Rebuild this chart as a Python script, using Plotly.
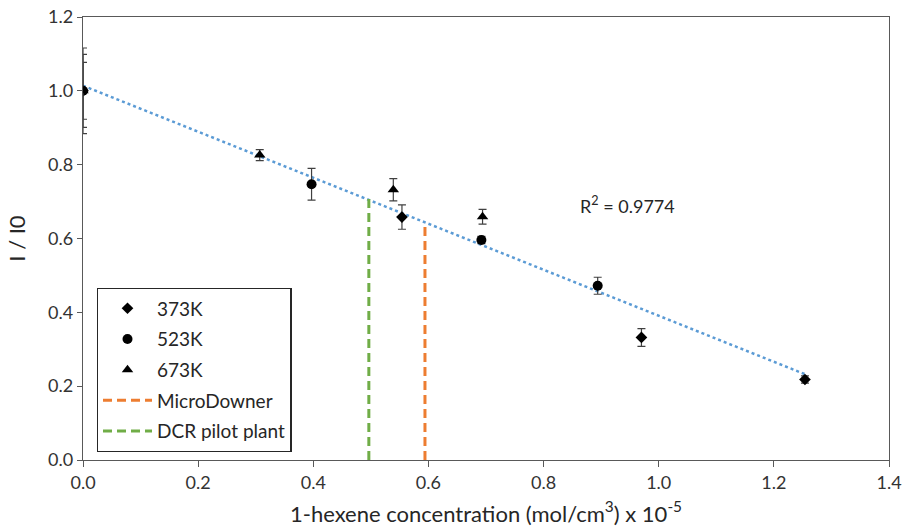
import numpy as np
import plotly.graph_objects as go

# ---- data ----
x_373 = [0.0, 0.554, 0.970, 1.254]
y_373 = [1.0, 0.658, 0.332, 0.218]
e_373 = [0.116, 0.033, 0.024, 0.010]

x_523 = [0.0, 0.397, 0.692, 0.894]
y_523 = [1.0, 0.747, 0.596, 0.472]
e_523 = [0.099, 0.043, 0.010, 0.023]

x_673 = [0.0, 0.307, 0.539, 0.694]
y_673 = [1.0, 0.826, 0.732, 0.659]
e_673 = [0.077, 0.015, 0.030, 0.020]

micro_x = [0.594, 0.594]
micro_y = [0.0, 0.645]
dcr_x = [0.4965, 0.4965]
dcr_y = [0.0, 0.708]

r2_text = "R<sup>2</sup> = 0.9774"
x_ticks = [0.0, 0.2, 0.4, 0.6, 0.8, 1.0, 1.2, 1.4]
y_ticks = [0.0, 0.2, 0.4, 0.6, 0.8, 1.0, 1.2]

# linear trendline over all points
all_x = np.array(x_373 + x_523 + x_673)
all_y = np.array(y_373 + y_523 + y_673)
slope, intercept = np.polyfit(all_x, all_y, 1)
trend_x = np.array([all_x.min(), all_x.max()])
trend_y = intercept + slope * trend_x

FONT = "Lato, 'Liberation Sans', sans-serif"
AX = "#595959"
ERR = "#404040"
TXT = "#333333"

fig = go.Figure()

fig.add_trace(go.Scatter(
    x=trend_x, y=trend_y, mode="lines", showlegend=False,
    line=dict(color="#5B9BD5", width=2.5, dash="dot"), hoverinfo="skip"))

def series(x, y, e, name, symbol, size):
    fig.add_trace(go.Scatter(
        x=x, y=y, mode="markers", name=name, legendgroup=name,
        marker=dict(symbol=symbol, size=size, color="black"),
        error_y=dict(type="data", array=e, visible=True, color=ERR,
                     thickness=1.2, width=4)))

series(x_373, y_373, e_373, "373K", "diamond", 9)
series(x_523, y_523, e_523, "523K", "circle", 10)
series(x_673, y_673, e_673, "673K", "triangle-up", 10)

fig.add_trace(go.Scatter(
    x=micro_x, y=micro_y, mode="lines", name="MicroDowner", legendgroup="m",
    line=dict(color="#ED7D31", width=3, dash="9px,5px")))
fig.add_trace(go.Scatter(
    x=dcr_x, y=dcr_y, mode="lines", name="DCR pilot plant", legendgroup="d",
    line=dict(color="#70AD47", width=3, dash="9px,5px")))

fig.add_annotation(x=0.946, y=0.69, text=r2_text, showarrow=False,
                   font=dict(family=FONT, size=18, color="#262626"))

fig.update_layout(
    width=903, height=531,
    margin=dict(l=83, r=14, t=17, b=71),
    paper_bgcolor="white", plot_bgcolor="white",
    font=dict(family=FONT, size=18, color=TXT),
    legend=dict(x=0.017, y=0.388, xanchor="left", yanchor="top",
                bordercolor="#262626", borderwidth=1.3, bgcolor="white",
                font=dict(family=FONT, size=19, color="#262626"),
                tracegroupgap=3, itemwidth=49),
    xaxis=dict(range=[0, 1.4], tickvals=x_ticks, automargin=False,
               ticktext=[f"{v:.1f}" for v in x_ticks],
               showgrid=False, zeroline=False, showline=True, linecolor=AX,
               linewidth=1.3, mirror=True, ticks="outside", ticklen=6,
               tickcolor=AX, tickfont=dict(size=18, color=TXT),
               title=dict(text="1-hexene concentration (mol/cm<sup>3</sup>) x 10<sup>-5</sup>",
                          font=dict(size=22, color="#262626"), standoff=14)),
    yaxis=dict(range=[0, 1.2], tickvals=y_ticks, automargin=False,
               ticktext=[f"{v:.1f}" for v in y_ticks],
               showgrid=False, zeroline=False, showline=True, linecolor=AX,
               linewidth=1.3, mirror=True, ticks="outside", ticklen=5,
               tickcolor=AX, tickfont=dict(size=18, color=TXT),
               title=dict(text="I / I0", font=dict(size=22, color="#262626"),
                          standoff=16)),
)

fig.write_html("out.html",
               config={"displayModeBar": False},
               post_script="document.body.style.margin='0';document.body.style.overflow='hidden';")
